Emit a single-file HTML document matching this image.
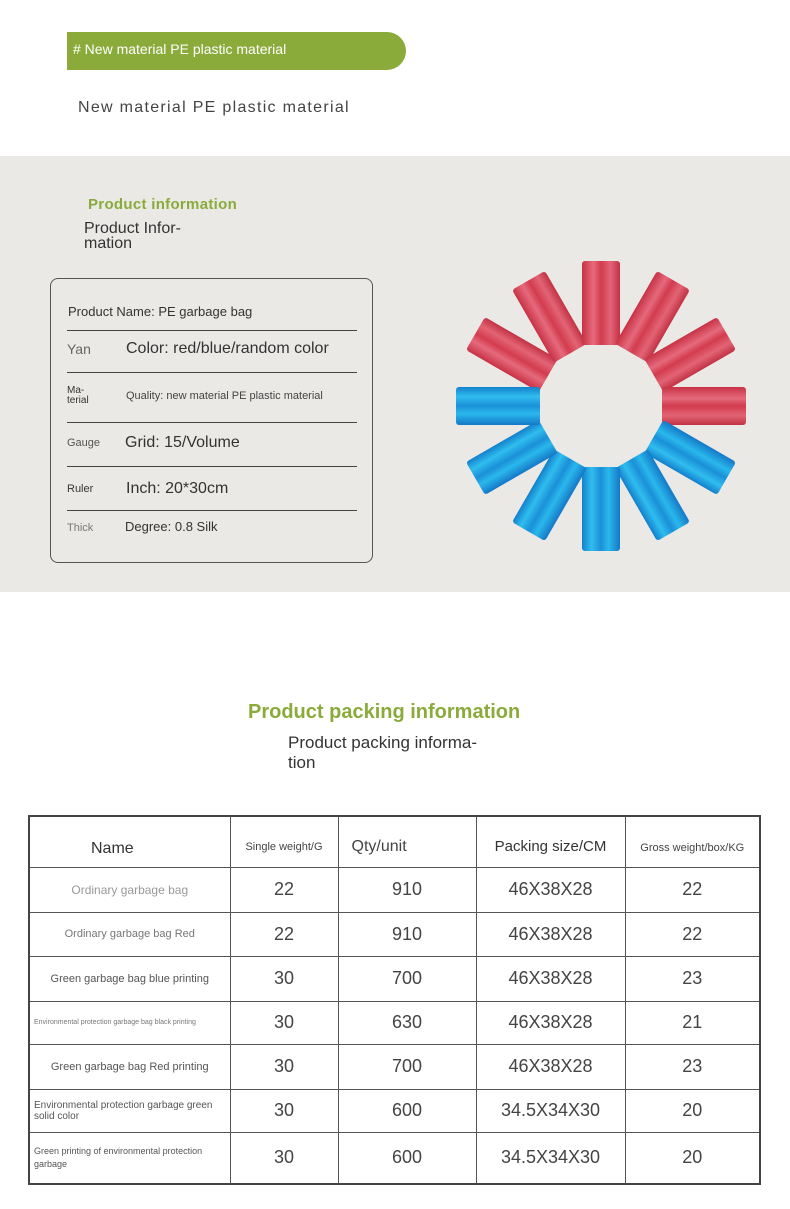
<!DOCTYPE html>
<html><head><meta charset="utf-8"><style>
body{margin:0;width:790px;height:1209px;background:#fff;font-family:"Liberation Sans",sans-serif;position:relative;overflow:hidden}
.a{position:absolute;white-space:nowrap}
.pill{position:absolute;left:67px;top:32px;width:339px;height:38px;background:#8aab3a;border-radius:0 19px 19px 0;color:#fff;font-size:14px;line-height:34px;padding-left:6px;box-sizing:border-box}
.band{position:absolute;left:0;top:156px;width:790px;height:436px;background:#ebe9e6}
.box{position:absolute;left:50px;top:278px;width:323px;height:285px;border:1px solid #555;border-radius:8px;box-sizing:border-box}
.hl{position:absolute;left:67px;width:290px;height:1px;background:#444}
table{position:absolute;left:28px;top:815px;width:733px;border-collapse:collapse;border:2px solid #444}
td{border:1px solid #555;text-align:center;color:#444;font-size:18px;padding:0}
td.n{color:#777;font-size:11px}
</style></head><body>
<div class="pill"># New material PE plastic material</div>
<div class="a" style="left:78px;top:99px;font-size:16px;color:#444;letter-spacing:1.3px">New material PE plastic material</div>
<div class="band"></div>
<div class="a" style="left:88px;top:196px;font-size:15px;font-weight:bold;color:#8aab3a;letter-spacing:0.3px">Product information</div>
<div class="a" style="left:84px;top:221px;font-size:16px;color:#333;line-height:15px">Product Infor-<br>mation</div>
<div class="box"></div>
<div class="a" style="left:68px;top:304px;font-size:13px;color:#333">Product Name: PE garbage bag</div>
<div class="hl" style="top:330px"></div>
<div class="a" style="left:67px;top:341px;font-size:14px;color:#666">Yan</div>
<div class="a" style="left:126px;top:340px;font-size:16px;color:#333">Color: red/blue/random color</div>
<div class="hl" style="top:372px"></div>
<div class="a" style="left:67px;top:386px;font-size:10px;color:#333;line-height:10px">Ma-<br>terial</div>
<div class="a" style="left:126px;top:390px;font-size:11px;color:#444">Quality: new material PE plastic material</div>
<div class="hl" style="top:422px"></div>
<div class="a" style="left:67px;top:437px;font-size:11px;color:#555">Gauge</div>
<div class="a" style="left:125px;top:434px;font-size:16px;color:#333">Grid: 15/Volume</div>
<div class="hl" style="top:466px"></div>
<div class="a" style="left:67px;top:483px;font-size:11px;color:#333">Ruler</div>
<div class="a" style="left:126px;top:480px;font-size:16px;color:#333">Inch: 20*30cm</div>
<div class="hl" style="top:510px"></div>
<div class="a" style="left:67px;top:522px;font-size:11px;color:#777">Thick</div>
<div class="a" style="left:125px;top:519px;font-size:13px;color:#333">Degree: 0.8 Silk</div>
<svg class="a" style="left:0;top:0" width="790" height="600">
<defs>
<linearGradient id="r" x1="0" y1="0" x2="0" y2="1"><stop offset="0" stop-color="#c83245"/><stop offset=".3" stop-color="#e56a7c"/><stop offset=".5" stop-color="#d23c4e"/><stop offset=".75" stop-color="#e26475"/><stop offset="1" stop-color="#c23244"/></linearGradient>
<linearGradient id="b" x1="0" y1="0" x2="0" y2="1"><stop offset="0" stop-color="#1478c8"/><stop offset=".3" stop-color="#2ab8ec"/><stop offset=".5" stop-color="#1a90d8"/><stop offset=".75" stop-color="#30bdee"/><stop offset="1" stop-color="#1280cc"/></linearGradient>
</defs>
<g transform="translate(601,406)">
<g fill="url(#r)">
<rect x="61" y="-19" width="84" height="38" rx="3" transform="rotate(-150)"/>
<rect x="61" y="-19" width="84" height="38" rx="3" transform="rotate(-120)"/>
<rect x="61" y="-19" width="84" height="38" rx="3" transform="rotate(-90)"/>
<rect x="61" y="-19" width="84" height="38" rx="3" transform="rotate(-60)"/>
<rect x="61" y="-19" width="84" height="38" rx="3" transform="rotate(-30)"/>
<rect x="61" y="-19" width="84" height="38" rx="3" transform="rotate(0)"/>
</g>
<g fill="url(#b)">
<rect x="61" y="-19" width="84" height="38" rx="3" transform="rotate(30)"/>
<rect x="61" y="-19" width="84" height="38" rx="3" transform="rotate(60)"/>
<rect x="61" y="-19" width="84" height="38" rx="3" transform="rotate(90)"/>
<rect x="61" y="-19" width="84" height="38" rx="3" transform="rotate(120)"/>
<rect x="61" y="-19" width="84" height="38" rx="3" transform="rotate(150)"/>
<rect x="61" y="-19" width="84" height="38" rx="3" transform="rotate(180)"/>
</g>
</g>
</svg>
<div class="a" style="left:248px;top:701px;font-size:20px;font-weight:bold;color:#8aab3a">Product packing information</div>
<div class="a" style="left:288px;top:733px;font-size:17px;color:#333;line-height:20px">Product packing informa-<br>tion</div>
<table>
<colgroup><col style="width:201px"><col style="width:108px"><col style="width:138px"><col style="width:149px"><col></colgroup>
<tr style="height:51px"><td style="font-size:16px;color:#333;text-align:left;padding-left:61px;padding-top:14px">Name</td><td style="font-size:11px;padding-top:10px">Single weight/G</td><td style="font-size:16px;text-align:left;padding-left:13px;padding-top:10px">Qty/unit</td><td style="font-size:15px;color:#333;padding-top:10px">Packing size/CM</td><td style="font-size:11px;padding-top:12px">Gross weight/box/KG</td></tr>
<tr style="height:45px"><td class="n" style="font-size:12px;color:#999">Ordinary garbage bag</td><td>22</td><td>910</td><td>46X38X28</td><td>22</td></tr>
<tr style="height:44px"><td class="n">Ordinary garbage bag Red</td><td>22</td><td>910</td><td>46X38X28</td><td>22</td></tr>
<tr style="height:45px"><td class="n" style="color:#555">Green garbage bag blue printing</td><td>30</td><td>700</td><td>46X38X28</td><td>23</td></tr>
<tr style="height:43px"><td class="n" style="font-size:7px;text-align:left;padding-left:4px">Environmental protection garbage bag black printing</td><td>30</td><td>630</td><td>46X38X28</td><td>21</td></tr>
<tr style="height:45px"><td class="n" style="color:#555">Green garbage bag Red printing</td><td>30</td><td>700</td><td>46X38X28</td><td>23</td></tr>
<tr style="height:43px"><td class="n" style="font-size:10px;color:#555;text-align:left;padding-left:4px">Environmental protection garbage green<br>solid color</td><td>30</td><td>600</td><td>34.5X34X30</td><td>20</td></tr>
<tr style="height:52px"><td class="n" style="font-size:9px;color:#555;text-align:left;padding-left:4px;line-height:13px">Green printing of environmental protection<br>garbage</td><td>30</td><td>600</td><td>34.5X34X30</td><td>20</td></tr>
</table>
</body></html>
